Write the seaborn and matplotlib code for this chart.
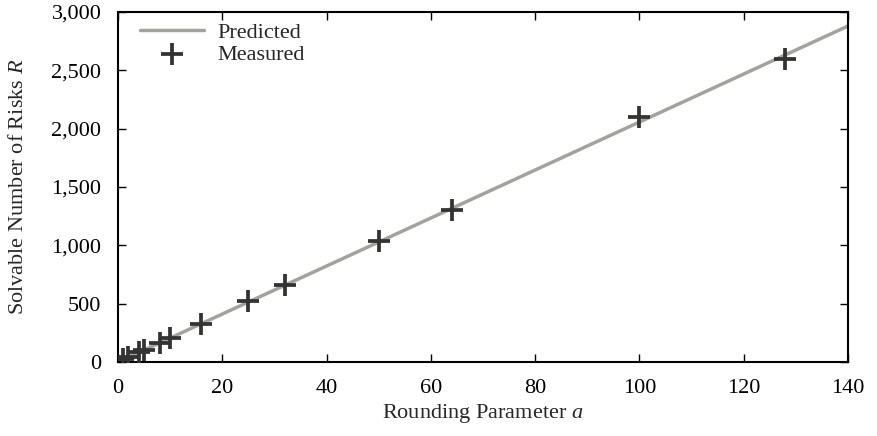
import matplotlib
matplotlib.use("Agg")
import matplotlib.pyplot as plt
import seaborn as sns
import pandas as pd
from matplotlib.ticker import FuncFormatter, MultipleLocator

# Data
pred_a = [0, 140]
pred_R = [0, 2880]
meas_a = [1, 2, 4, 5, 8, 10, 16, 25, 32, 50, 64, 100, 128]
meas_R = [25, 45, 85, 105, 165, 205, 330, 520, 660, 1040, 1300, 2100, 2600]

sns.set_theme(style="ticks")
plt.rcParams['font.family'] = ['Liberation Serif', 'DejaVu Serif']
plt.rcParams['mathtext.fontset'] = 'custom'
plt.rcParams['mathtext.rm'] = 'Liberation Serif'
plt.rcParams['mathtext.it'] = 'Liberation Serif:italic'

fig = plt.figure(figsize=(8.77, 4.36), dpi=100)
ax = fig.add_axes([0.1346, 0.1697, 0.967 - 0.1346, 0.9725 - 0.1697])

pred = pd.DataFrame({"a": pred_a, "R": pred_R})
meas = pd.DataFrame({"a": meas_a, "R": meas_R})

FS = 16

sns.lineplot(data=pred, x="a", y="R", ax=ax, color="#a3a39e", linewidth=2.5,
             label="Predicted")
sns.scatterplot(data=meas, x="a", y="R", ax=ax, marker="+", s=240,
                color="#333333", linewidth=2.7, label="Measured", zorder=3)

ax.set_xlim(0, 140)
ax.set_ylim(0, 3000)
ax.xaxis.set_major_locator(MultipleLocator(20))
ax.yaxis.set_major_locator(MultipleLocator(500))
ax.yaxis.set_major_formatter(FuncFormatter(lambda v, p: f"{int(v):,}"))

ax.tick_params(direction="in", length=6, width=1, top=True, right=True,
               labelsize=FS, colors="#000000")
ax.tick_params(axis="x", pad=12)
ax.tick_params(axis="y", pad=12)
for s in ax.spines.values():
    s.set_linewidth(1.5)
    s.set_color("#000000")

ax.set_xlabel("Rounding Parameter $\\mathit{a}$", fontsize=FS, labelpad=3)
ax.set_ylabel("Solvable Number of Risks $\\mathit{R}$", fontsize=FS, labelpad=17)

leg = ax.legend(loc="upper left", frameon=False, fontsize=FS,
                handlelength=2.9, handletextpad=0.6, borderaxespad=0.0,
                borderpad=0.0, labelspacing=0.05,
                bbox_to_anchor=(0.03, 0.97))

fig.savefig("out.png", dpi=100)
